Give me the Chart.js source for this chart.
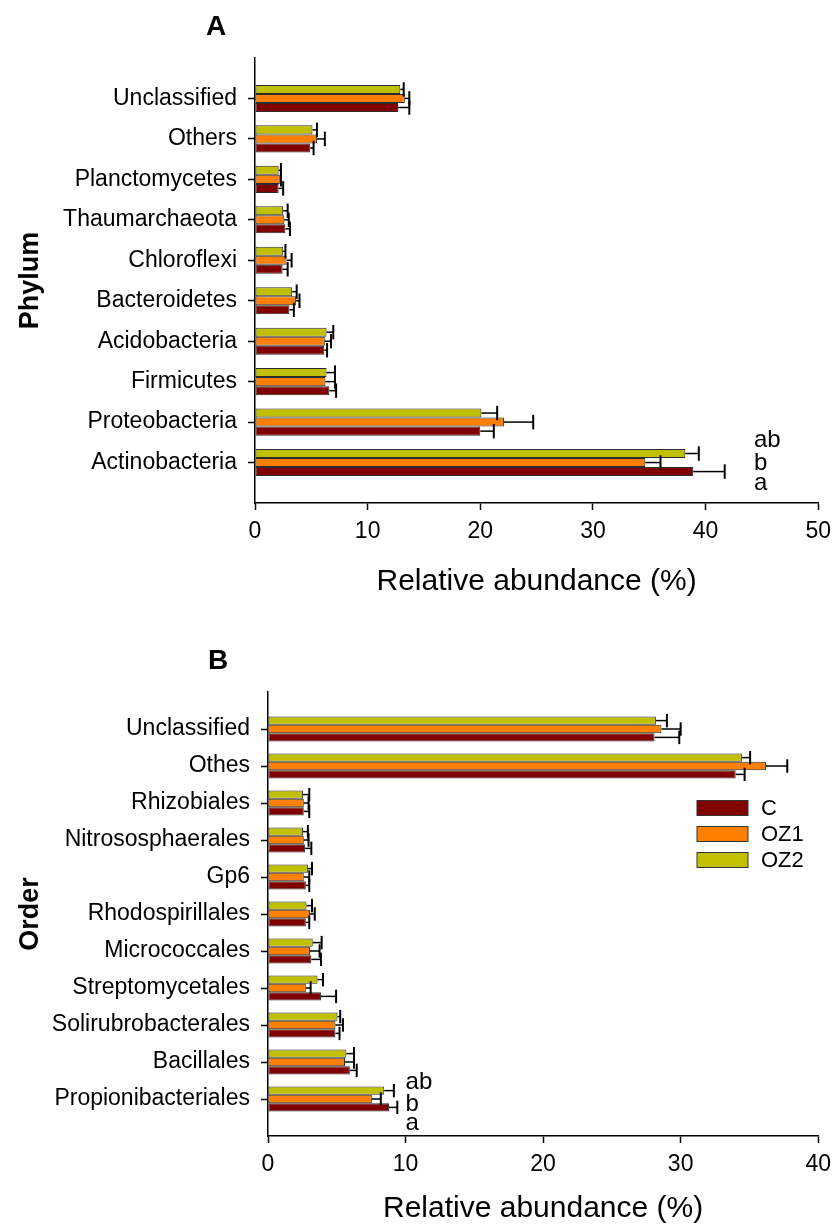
<!DOCTYPE html>
<html>
<head>
<meta charset="utf-8">
<script src="https://cdn.jsdelivr.net/npm/chart.js@4.4.0/dist/chart.umd.min.js"></script>
<style>
  html, body { margin: 0; padding: 0; background: #fff; }
  canvas { display: block; }
</style>
</head>
<body>
<canvas id="chartA" width="839" height="615"></canvas>
<canvas id="chartB" width="839" height="612"></canvas>
<script>
// treatments (legend order) and their colours
const treatments = ['C', 'OZ1', 'OZ2'];
const treatmentColors = ['#800000', '#ff8000', '#c0c000'];

// Panel A - phylum level, listed top to bottom as drawn
const phyla = ['Unclassified', 'Others', 'Planctomycetes', 'Thaumarchaeota', 'Chloroflexi',
  'Bacteroidetes', 'Acidobacteria', 'Firmicutes', 'Proteobacteria', 'Actinobacteria'];
const phylaC = [12.7, 4.9, 2.1, 2.7, 2.45, 3.05, 6.15, 6.6, 20.0, 38.9];
const phylaOZ1 = [13.3, 5.5, 2.2, 2.6, 2.8, 3.65, 6.2, 6.25, 22.1, 34.65];
const phylaOZ2 = [12.9, 5.1, 2.1, 2.5, 2.5, 3.3, 6.35, 6.35, 20.1, 38.2];
const phylaErrC = [1.0, 0.3, 0.4, 0.4, 0.45, 0.4, 0.25, 0.6, 1.2, 2.8];
const phylaErrOZ1 = [0.4, 0.7, 0.1, 0.4, 0.45, 0.3, 0.55, 0.85, 2.6, 1.35];
const phylaErrOZ2 = [0.3, 0.4, 0.2, 0.4, 0.2, 0.4, 0.6, 0.75, 1.4, 1.2];
const phylaLetters = ['a', 'b', 'ab']; // C, OZ1, OZ2 for Actinobacteria

// Panel B - order level
const orders = ['Unclassified', 'Othes', 'Rhizobiales', 'Nitrososphaerales', 'Gp6',
  'Rhodospirillales', 'Micrococcales', 'Streptomycetales', 'Solirubrobacterales',
  'Bacillales', 'Propionibacteriales'];
const ordersC = [28.1, 34.0, 2.6, 2.7, 2.75, 2.75, 3.15, 3.85, 4.9, 5.95, 8.8];
const ordersOZ1 = [28.6, 36.2, 2.6, 2.6, 2.6, 3.05, 3.05, 2.75, 4.9, 5.6, 7.55];
const ordersOZ2 = [28.2, 34.45, 2.55, 2.55, 2.9, 2.8, 3.25, 3.6, 5.05, 5.7, 8.45];
const ordersErrC = [1.8, 0.65, 0.4, 0.45, 0.25, 0.25, 0.7, 1.1, 0.3, 0.5, 0.6];
const ordersErrOZ1 = [1.4, 1.55, 0.35, 0.35, 0.4, 0.35, 0.7, 0.35, 0.55, 0.65, 0.65];
const ordersErrOZ2 = [0.8, 0.6, 0.45, 0.35, 0.3, 0.4, 0.65, 0.4, 0.2, 0.55, 0.7];
const ordersLetters = ['a', 'b', 'ab'];

const xTicksA = [0, 10, 20, 30, 40, 50];
const xTicksB = [0, 10, 20, 30, 40];

Chart.defaults.font.family = "'Liberation Sans', Arial, sans-serif";
Chart.defaults.color = '#000';

// one-sided error bars with a cap
const errorBars = {
  id: 'errorBars',
  afterDatasetsDraw(chart) {
    const ctx = chart.ctx;
    const xScale = chart.scales.x;
    ctx.save();
    ctx.strokeStyle = '#000';
    chart.data.datasets.forEach((ds, i) => {
      chart.getDatasetMeta(i).data.forEach((bar, j) => {
        const v = ds.data[j];
        const e = ds.errors[j];
        if (v == null || e == null) return;
        const x0 = bar.x;
        const x1 = xScale.getPixelForValue(v + e);
        const cap = bar.height * 0.8;
        ctx.lineWidth = 1.5;
        ctx.beginPath();
        ctx.moveTo(x0, bar.y);
        ctx.lineTo(x1, bar.y);
        ctx.stroke();
        ctx.lineWidth = 2;
        ctx.beginPath();
        ctx.moveTo(x1, bar.y - cap);
        ctx.lineTo(x1, bar.y + cap);
        ctx.stroke();
      });
    });
    ctx.restore();
  }
};

function panelText(letter, lx, ly) {
  return {
    id: 'panelText',
    afterDraw(chart) {
      const ctx = chart.ctx;
      ctx.save();
      ctx.font = "bold 28px 'Liberation Sans', Arial, sans-serif";
      ctx.fillStyle = '#000';
      ctx.textAlign = 'center';
      ctx.textBaseline = 'middle';
      ctx.fillText(letter, lx, ly);
      ctx.restore();
    }
  };
}

// significance letters next to the bottom group
function sigLetters(letters, atValue, offsets) {
  return {
    id: 'sigLetters',
    afterDatasetsDraw(chart) {
      const ctx = chart.ctx;
      const x = chart.scales.x.getPixelForValue(atValue);
      const yc = chart.scales.y.getPixelForValue(chart.data.labels.length - 2);
      ctx.save();
      ctx.font = "24px 'Liberation Sans', Arial, sans-serif";
      ctx.fillStyle = '#000';
      ctx.textAlign = 'left';
      ctx.textBaseline = 'alphabetic';
      // top to bottom: OZ2, OZ1, C
      ctx.fillText(letters[2], x, yc + offsets[0]);
      ctx.fillText(letters[1], x, yc + offsets[1]);
      ctx.fillText(letters[0], x, yc + offsets[2]);
      ctx.restore();
    }
  };
}

function boxLegend(lx, ly) {
  return {
    id: 'boxLegend',
    afterDraw(chart) {
      const ctx = chart.ctx;
      ctx.save();
      ctx.font = "22px 'Liberation Sans', Arial, sans-serif";
      ctx.textAlign = 'left';
      ctx.textBaseline = 'middle';
      treatments.forEach((t, k) => {
        const y = ly + k * 26;
        ctx.fillStyle = treatmentColors[k];
        ctx.fillRect(lx, y - 7.5, 51, 15);
        ctx.strokeStyle = '#333';
        ctx.lineWidth = 1;
        ctx.strokeRect(lx, y - 7.5, 51, 15);
        ctx.fillStyle = '#000';
        ctx.fillText(t, lx + 64, y + 1);
      });
      ctx.restore();
    }
  };
}

function buildPanel(id, p) {
  const canvas = document.getElementById(id);
  const pad = arr => [null, ...arr, null];
  const labels = ['', ...p.categories, ''];
  // OZ2 sits on top of each group, C at the bottom
  const datasets = [2, 1, 0].map(k => ({
    label: treatments[k],
    data: pad(p.values[k]),
    errors: pad(p.errors[k]),
    backgroundColor: treatmentColors[k],
    borderColor: '#2b2b2b',
    borderWidth: 1,
    borderSkipped: false,
    categoryPercentage: p.groupShare,
    barPercentage: 1
  }));
  return new Chart(canvas, {
    type: 'bar',
    data: { labels: labels, datasets: datasets },
    options: {
      indexAxis: 'y',
      responsive: false,
      animation: false,
      devicePixelRatio: 1,
      layout: { padding: { left: 14, right: canvas.width - p.area.right, top: p.area.top, bottom: 0 } },
      scales: {
        x: {
          min: 0,
          max: p.xTicks[p.xTicks.length - 1],
          afterBuildTicks: s => { s.ticks = p.xTicks.map(v => ({ value: v })); },
          ticks: { padding: 8, font: { size: 23 }, color: '#000' },
          grid: { drawOnChartArea: false, tickLength: 7, tickWidth: 1.5, tickColor: '#000' },
          border: { color: '#000', width: 1.5 },
          title: {
            display: true, text: 'Relative abundance (%)', color: '#000',
            font: { size: 30 }, padding: { top: 0, bottom: p.xTitlePad }
          },
          afterFit: s => { s.height = canvas.height - p.area.bottom; }
        },
        y: {
          offset: false,
          ticks: { autoSkip: false, padding: 11, font: { size: 23 }, color: '#000' },
          grid: {
            offset: false, drawOnChartArea: false, tickLength: 7, tickWidth: 1.5,
            tickColor: c => (c.tick && c.tick.label === '') ? 'rgba(0,0,0,0)' : '#000'
          },
          border: { color: '#000', width: 1.5 },
          title: {
            display: true, text: p.rank, color: '#000',
            font: { size: 27, weight: 'bold' }, padding: { top: 0, bottom: 0 }
          },
          afterFit: s => { s.width = p.area.left - 14; }
        }
      },
      plugins: { legend: { display: false }, tooltip: { enabled: false } }
    },
    plugins: p.plugins
  });
}

buildPanel('chartA', {
  categories: phyla,
  values: [phylaC, phylaOZ1, phylaOZ2],
  errors: [phylaErrC, phylaErrOZ1, phylaErrOZ2],
  xTicks: xTicksA,
  rank: 'Phylum',
  groupShare: 0.67,
  area: { left: 255, right: 824, top: 58, bottom: 503 },
  xTitlePad: 15,
  plugins: [errorBars, panelText('A', 216, 27), sigLetters(phylaLetters, 44.3, [-16, 7, 27])]
});

buildPanel('chartB', {
  categories: orders,
  values: [ordersC, ordersOZ1, ordersOZ2],
  errors: [ordersErrC, ordersErrOZ1, ordersErrOZ2],
  xTicks: xTicksB,
  rank: 'Order',
  groupShare: 0.68,
  area: { left: 268, right: 825, top: 77, bottom: 521 },
  xTitlePad: 0,
  plugins: [errorBars, panelText('B', 218, 46), sigLetters(ordersLetters, 10.0, [-10, 12, 31]), boxLegend(697, 193)]
});
</script>
</body>
</html>
